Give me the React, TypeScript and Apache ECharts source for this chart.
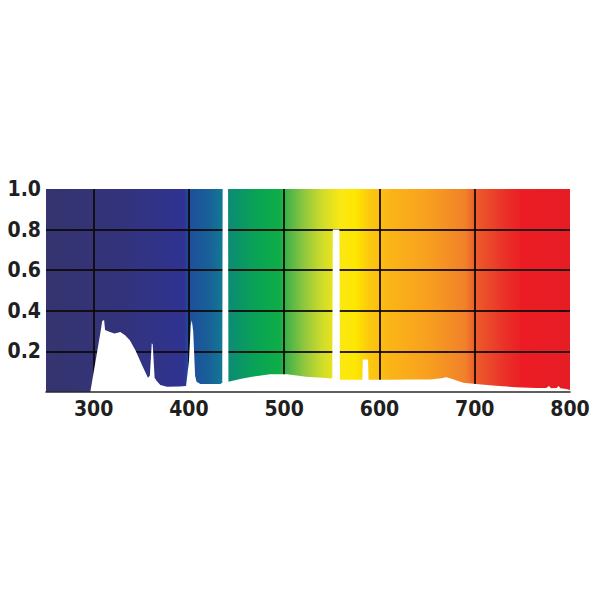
import React from 'react';
import * as echarts from 'echarts';

// wavelength axis (nm) and relative intensity axis
const xTicks = [300, 400, 500, 600, 700, 800];
const yTicks = [0.2, 0.4, 0.6, 0.8, 1.0];

// white spectrum curve
const spectrumNm = [
  296.5, 307, 309, 311, 312, 317, 322, 328, 333, 338, 344, 351, 357, 359,
  361, 362, 364, 366, 370, 377, 390, 397, 400, 402, 403, 404.5, 406.5, 408,
  412, 425, 433, 435, 435.5, 441, 441.5, 455, 468, 485, 503, 523, 540,
  550.5, 551, 558, 558.5, 570, 582, 582.5, 588, 588.5, 610, 632, 653, 665,
  670, 674, 688, 701, 722, 743, 764, 775, 778, 780, 786, 788, 790, 796, 800,
];
const spectrumValue = [
  0, 0.29, 0.35, 0.355, 0.305, 0.296, 0.288, 0.296, 0.28, 0.255, 0.205,
  0.13, 0.07, 0.08, 0.24, 0.235, 0.07, 0.055, 0.034, 0.026, 0.027, 0.03,
  0.15, 0.33, 0.354, 0.3, 0.08, 0.05, 0.04, 0.04, 0.04, 0.045, 1.2, 1.2,
  0.05, 0.065, 0.076, 0.087, 0.087, 0.075, 0.07, 0.066, 0.8, 0.8, 0.06,
  0.06, 0.06, 0.16, 0.16, 0.06, 0.06, 0.062, 0.062, 0.068, 0.073, 0.068,
  0.046, 0.039, 0.031, 0.023, 0.02, 0.02, 0.03, 0.018, 0.02, 0.03, 0.018,
  0.015, 0.01,
];

// colour band behind the curve: wavelength -> colour
const bandNm = [250, 330, 395, 400, 420, 434, 441, 470, 495, 505, 520, 540, 560, 575, 590, 610, 650, 690, 700, 730, 750, 800];
const bandColor = [
  '#35346f', '#33337c', '#2f3391', '#1f4e9c', '#185f98', '#137695',
  '#0b8b75', '#09a355', '#0ead48', '#4cb447', '#8cc63f', '#cfdc2a',
  '#fbe813', '#fde600', '#fcc80f', '#fbb516', '#f8a01f', '#f18129',
  '#ec5d2b', '#ea3328', '#ec1c24', '#e61d26',
];

const X_MIN = 250;
const X_MAX = 800;

const labelFont =
  '"Noto Sans ExtraCondensed", "Noto Sans Condensed", "Liberation Sans Narrow", "DejaVu Sans Condensed", "Liberation Sans", sans-serif';
const gridColor = 'rgba(15, 8, 8, 0.88)';

export default function App() {
  const chartRef = React.useRef<HTMLDivElement>(null);

  React.useEffect(() => {
    if (!chartRef.current) return;
    const chart = echarts.init(chartRef.current, undefined, { renderer: 'svg' });

    const gradient = new echarts.graphic.LinearGradient(
      0, 0, 1, 0,
      bandNm.map((nm, i) => ({
        offset: (nm - X_MIN) / (X_MAX - X_MIN),
        color: bandColor[i],
      })),
    );

    const gridLines = [
      ...xTicks.filter((v) => v < X_MAX).map((v) => ({ xAxis: v })),
      ...yTicks.filter((v) => v < 1).map((v) => ({ yAxis: v })),
    ];

    chart.setOption({
      animation: false,
      grid: { left: 46, right: 26, top: 189, bottom: 204 },
      xAxis: {
        type: 'value',
        min: X_MIN,
        max: X_MAX,
        interval: 50,
        z: 20,
        axisLine: { show: true, lineStyle: { color: '#2a2a2a', width: 1.5 } },
        axisTick: { show: false },
        splitLine: { show: false },
        axisLabel: {
          margin: 6,
          fontFamily: labelFont,
          fontWeight: 'bold',
          fontSize: 21,
          color: '#1f1f1f',
          formatter: (v: number) => (xTicks.includes(v) ? String(v) : ''),
        },
      },
      yAxis: {
        type: 'value',
        min: 0,
        max: 1,
        interval: 0.2,
        axisLine: { show: false },
        axisTick: { show: false },
        splitLine: { show: false },
        axisLabel: {
          margin: 5,
          fontFamily: labelFont,
          fontWeight: 'bold',
          fontSize: 21,
          color: '#1f1f1f',
          formatter: (v: number) => (v === 0 ? '' : v.toFixed(1)),
        },
      },
      series: [
        {
          type: 'line',
          name: 'band',
          z: 1,
          symbol: 'none',
          silent: true,
          lineStyle: { width: 0 },
          areaStyle: { color: gradient, opacity: 1 },
          data: [[X_MIN, 1], [X_MAX, 1]],
          markLine: {
            silent: true,
            symbol: 'none',
            z: 2,
            label: { show: false },
            lineStyle: { color: gridColor, width: 2, type: 'solid' },
            data: gridLines,
          },
        },
        {
          type: 'line',
          name: 'spectrum',
          z: 10,
          symbol: 'none',
          clip: true,
          lineStyle: { width: 0 },
          areaStyle: { color: '#ffffff', opacity: 1 },
          data: spectrumNm.map((nm, i) => [nm, spectrumValue[i]]),
        },
      ],
    });

    return () => {
      chart.dispose();
    };
  }, []);

  return (
    <>
      <style>{'.spectrum-chart svg text { font-stretch: condensed !important; }'}</style>
      <div
        ref={chartRef}
        className="spectrum-chart"
        style={{ position: 'fixed', left: 0, top: 0, width: 596, height: 596, background: '#ffffff' }}
      />
    </>
  );
}
